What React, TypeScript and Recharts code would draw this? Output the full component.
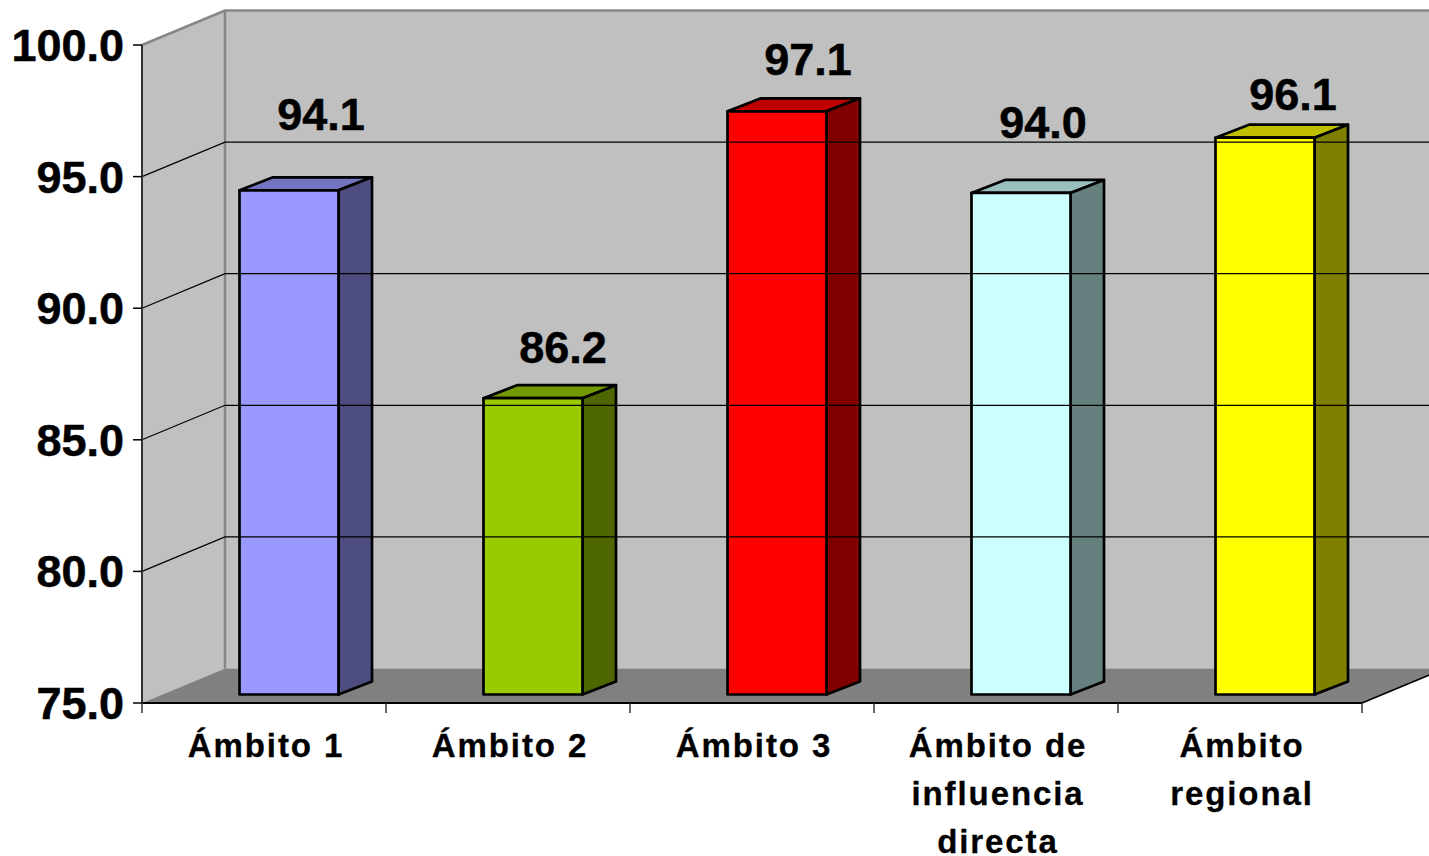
import { BarChart, Bar, XAxis, YAxis, LabelList, ReferenceArea, ReferenceLine } from "recharts";

const categories = ["Ámbito 1", "Ámbito 2", "Ámbito 3", "Ámbito de\ninfluencia\ndirecta", "Ámbito\nregional"];
const values = [94.1, 86.2, 97.1, 94.0, 96.1];
const yTicks = [75, 80, 85, 90, 95, 100];
const wallLines = [80, 85, 90, 95];

// front, top and side face of each column
const frontColors = ["#9999ff", "#99cc00", "#ff0000", "#ccffff", "#ffff00"];
const topColors = ["#7373bf", "#739900", "#bf0000", "#99bfbf", "#bfbf00"];
const sideColors = ["#4d4d80", "#4d6600", "#800000", "#668080", "#808000"];

// hand placed labels in the original chart, relative to the column
const labelNudge = [
  [32, -60],
  [30, -35],
  [31, -36],
  [22, -55],
  [28, -28],
];

const data = categories.map((name, i) => ({ name, value: values[i] }));

const FONT = "'Liberation Sans', Arial, sans-serif";
const WIDTH = 1429;
const HEIGHT = 856;

// depth of the 3D box
const DEPTH_X = 83;
const DEPTH_Y = 34.5;
// columns stand part way into the floor
const BAR_SHIFT_X = 24.5;
const BAR_TOP_SHIFT = -10;
const BAR_BOTTOM_SHIFT = -8.5;
const BAR_DX = 33.5;
const BAR_DY = 13;
const BAND = 244;

function Walls({ x, y, width, height }: any) {
  const bottom = y + height;
  const bx = x + DEPTH_X;
  const by = y - DEPTH_Y;
  const bBottom = bottom - DEPTH_Y;
  const right = x + width;
  return (
    <g>
      <polygon points={`${x},${y} ${bx},${by} ${bx},${bBottom} ${x},${bottom}`} fill="#c0c0c0" />
      <rect x={bx} y={by} width={WIDTH - bx} height={height} fill="#c0c0c0" />
      <polygon
        points={`${x},${bottom} ${bx},${bBottom} ${right + DEPTH_X},${bBottom} ${right},${bottom}`}
        fill="#808080"
      />
      <polyline
        points={`${x},${y} ${bx},${by} ${WIDTH},${by}`}
        fill="none"
        stroke="#868686"
        strokeWidth={2.5}
      />
      <line x1={bx} y1={by} x2={bx} y2={bBottom} stroke="#868686" strokeWidth={2.5} />
      <line x1={right} y1={bottom} x2={right + DEPTH_X} y2={bBottom} stroke="#000" strokeWidth={1.5} />
    </g>
  );
}

function WallLine({ x1, y1 }: any) {
  const by = y1 - DEPTH_Y;
  return (
    <polyline
      points={`${x1},${y1} ${x1 + DEPTH_X},${by} ${WIDTH},${by}`}
      fill="none"
      stroke="#000"
      strokeWidth={1.2}
    />
  );
}

function Column({ x, y, width, height, index }: any) {
  const left = x + BAR_SHIFT_X;
  const top = y + BAR_TOP_SHIFT;
  const right = left + width;
  const bottom = y + height + BAR_BOTTOM_SHIFT;
  const line = { stroke: "#000", strokeWidth: 2.7, strokeLinejoin: "round" as const };
  return (
    <g>
      <polygon
        points={`${left},${top} ${left + BAR_DX},${top - BAR_DY} ${right + BAR_DX},${top - BAR_DY} ${right},${top}`}
        fill={topColors[index]}
        {...line}
      />
      <polygon
        points={`${right},${top} ${right + BAR_DX},${top - BAR_DY} ${right + BAR_DX},${bottom - BAR_DY} ${right},${bottom}`}
        fill={sideColors[index]}
        {...line}
      />
      <rect x={left} y={top} width={width} height={bottom - top} fill={frontColors[index]} {...line} />
    </g>
  );
}

const heavyText = { fontFamily: FONT, fontWeight: "bold", fill: "#000", stroke: "#000", strokeWidth: 0.5 };

function ValueLabel({ x, y, width, value, index }: any) {
  const [nx, ny] = labelNudge[index];
  return (
    <text
      x={x + BAR_SHIFT_X + width / 2 + nx}
      y={y + BAR_TOP_SHIFT + ny}
      textAnchor="middle"
      fontSize={45}
      {...heavyText}
    >
      {Number(value).toFixed(1)}
    </text>
  );
}

function ValueTick({ x, y, payload }: any) {
  return (
    <g>
      <line x1={x - 9} y1={y} x2={x} y2={y} stroke="#000" strokeWidth={1.5} />
      <text x={x - 18} y={y + 16} textAnchor="end" fontSize={45} {...heavyText}>
        {Number(payload.value).toFixed(1)}
      </text>
    </g>
  );
}

function CategoryTick({ x, y, payload, index }: any) {
  const lines = String(payload.value).split("\n");
  const mark = { stroke: "#333", strokeWidth: 1.5 };
  return (
    <g>
      {index === 0 && <line x1={x - BAND / 2} y1={y} x2={x - BAND / 2} y2={y + 10} {...mark} />}
      <line x1={x + BAND / 2} y1={y} x2={x + BAND / 2} y2={y + 10} {...mark} />
      {lines.map((text, i) => (
        <text
          key={text}
          x={x + 2}
          y={y + 54 + i * 48}
          textAnchor="middle"
          fontSize={33}
          letterSpacing={1.9}
          {...heavyText}
          strokeWidth={0.3}
        >
          {text}
        </text>
      ))}
    </g>
  );
}

export default function App() {
  return (
    <div style={{ position: "absolute", left: 0, top: 0, width: WIDTH, height: HEIGHT, background: "#fff" }}>
      <BarChart
        width={WIDTH}
        height={HEIGHT}
        data={data}
        margin={{ top: 45, right: 67, left: 0, bottom: 0 }}
        barCategoryGap={0}
        style={{ overflow: "hidden" }}
      >
        <XAxis
          dataKey="name"
          height={153}
          interval={0}
          tickSize={0}
          tickMargin={0}
          tickLine={false}
          axisLine={{ stroke: "#000", strokeWidth: 2 }}
          tick={<CategoryTick />}
        />
        <YAxis
          width={142}
          domain={[75, 100]}
          ticks={yTicks}
          interval={0}
          tickSize={0}
          tickMargin={0}
          tickLine={false}
          axisLine={{ stroke: "#333", strokeWidth: 2 }}
          tick={<ValueTick />}
        />
        <ReferenceArea y1={75} y2={100} shape={<Walls />} ifOverflow="visible" />
        {wallLines.map((v) => (
          <ReferenceLine key={v} y={v} shape={<WallLine />} ifOverflow="visible" />
        ))}
        <Bar dataKey="value" barSize={99} shape={<Column />} isAnimationActive={false}>
          <LabelList dataKey="value" content={<ValueLabel />} />
        </Bar>
      </BarChart>
    </div>
  );
}
